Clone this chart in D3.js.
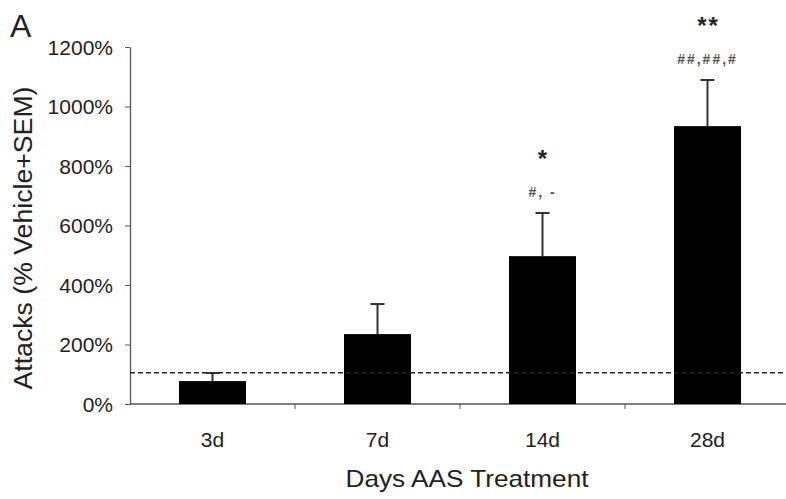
<!DOCTYPE html>
<html>
<head>
<meta charset="utf-8">
<script src="https://cdn.jsdelivr.net/npm/d3@7"></script>
<style>
  body { margin: 0; background: #fff; }
  text { font-family: "Liberation Sans", Arial, sans-serif; fill: #222; }
</style>
</head>
<body>
<div id="figure"></div>
<script>
// data
var days = ["3d", "7d", "14d", "28d"];
var attacks = [77, 235, 497, 934];
var sem = [27, 101, 145, 155];
var stars = ["", "", "*", "**"];
var hashes = ["", "", "#, -", "##,##,#"];
var yTicks = [0, 200, 400, 600, 800, 1000, 1200];
var vehicle = 105;

var width = 786, height = 499;
var margin = { top: 47, right: 0, bottom: 95, left: 130 };

var svg = d3.select("#figure")
    .append("svg")
    .attr("width", width)
    .attr("height", height)

var x = d3.scaleBand()
    .domain(days)
    .range([margin.left, margin.left + 165 * 4])
    .paddingInner(0)
    .paddingOuter(0);

var y = d3.scaleLinear()
    .domain([0, 1200])
    .range([404, 47]);

var barW = 67;

// y axis
var yAxis = svg.append("g")
    .attr("transform", "translate(" + margin.left + ",0)")
    .call(d3.axisLeft(y).tickValues(yTicks).tickSize(5).tickSizeOuter(0).tickFormat(function (d) { return d + "%" }))
yAxis.select(".domain").attr("stroke", "#555").attr("stroke-width", 1.3)
yAxis.selectAll(".tick line").attr("stroke", "#555")
yAxis.selectAll(".tick text")
    .attr("x", -17)
    .attr("dy", "0.35em")
    .style("font-size", "21px")
    .style("fill", "#222")

// x axis
var xAxis = svg.append("g")
    .attr("transform", "translate(0," + y(0) + ")")
xAxis.append("line")
    .attr("x1", margin.left).attr("x2", width)
    .attr("stroke", "#555").attr("stroke-width", 1.3)
xAxis.selectAll(".sep")
    .data(days.slice(1))
    .enter()
    .append("line")
    .attr("class", "sep")
    .attr("x1", function (d) { return x(d) })
    .attr("x2", function (d) { return x(d) })
    .attr("y1", 0).attr("y2", 5)
    .attr("stroke", "#555")
xAxis.selectAll(".lbl")
    .data(days)
    .enter()
    .append("text")
    .attr("class", "lbl")
    .attr("x", function (d) { return x(d) + x.bandwidth() / 2 })
    .attr("y", 43)
    .attr("text-anchor", "middle")
    .style("font-size", "21px")
    .text(function (d) { return d })

// error bars
var g = svg.append("g")
g.selectAll(".err")
    .data(days)
    .enter()
    .append("line")
    .attr("class", "err")
    .attr("x1", function (d) { return x(d) + x.bandwidth() / 2 })
    .attr("x2", function (d) { return x(d) + x.bandwidth() / 2 })
    .attr("y1", function (d, i) { return y(attacks[i]) })
    .attr("y2", function (d, i) { return y(attacks[i] + sem[i]) })
    .attr("stroke", "#333").attr("stroke-width", 2)
g.selectAll(".cap")
    .data(days)
    .enter()
    .append("line")
    .attr("class", "cap")
    .attr("x1", function (d) { return x(d) + x.bandwidth() / 2 - 7 })
    .attr("x2", function (d) { return x(d) + x.bandwidth() / 2 + 7 })
    .attr("y1", function (d, i) { return y(attacks[i] + sem[i]) })
    .attr("y2", function (d, i) { return y(attacks[i] + sem[i]) })
    .attr("stroke", "#333").attr("stroke-width", 2)

// dashed vehicle line
svg.append("line")
    .attr("x1", margin.left).attr("x2", width)
    .attr("y1", y(vehicle)).attr("y2", y(vehicle))
    .attr("stroke", "#222").attr("stroke-width", 1.3)
    .attr("stroke-dasharray", "5,3")

// bars
g.selectAll(".bar")
    .data(days)
    .enter()
    .append("rect")
    .attr("class", "bar")
    .attr("x", function (d) { return x(d) + (x.bandwidth() - barW) / 2 })
    .attr("width", barW)
    .attr("y", function (d, i) { return y(attacks[i]) })
    .attr("height", function (d, i) { return y(0) - y(attacks[i]) })
    .attr("fill", "#000")

// significance marks
g.selectAll(".star")
    .data(days)
    .enter()
    .append("text")
    .attr("class", "star")
    .attr("x", function (d) { return x(d) + x.bandwidth() / 2 + 1 })
    .attr("y", function (d, i) { return y(attacks[i] + sem[i]) - 46 })
    .attr("text-anchor", "middle")
    .style("font-size", "24px")
    .style("font-weight", "bold")
    .style("letter-spacing", "2px")
    .text(function (d, i) { return stars[i] })
g.selectAll(".hash")
    .data(days)
    .enter()
    .append("text")
    .attr("class", "hash")
    .attr("x", function (d) { return x(d) + x.bandwidth() / 2 })
    .attr("y", function (d, i) { return y(attacks[i] + sem[i]) - 16 })
    .attr("text-anchor", "middle")
    .style("font-size", "14px")
    .style("font-weight", "bold")
    .style("fill", "#555")
    .style("letter-spacing", "2px")
    .text(function (d, i) { return hashes[i] })

// titles
svg.append("text")
    .attr("x", 10).attr("y", 37)
    .style("font-size", "32px")
    .text("A")
svg.append("text")
    .attr("transform", "translate(32," + 238 + ") rotate(-90)")
    .attr("text-anchor", "middle")
    .style("font-size", "25px")
    .attr("lengthAdjust", "spacingAndGlyphs")
    .attr("textLength", 303)
    .text("Attacks (% Vehicle+SEM)")
svg.append("text")
    .attr("x", 467).attr("y", 487)
    .attr("text-anchor", "middle")
    .style("font-size", "24px")
    .attr("lengthAdjust", "spacingAndGlyphs")
    .attr("textLength", 243)
    .text("Days AAS Treatment")
</script>
</body>
</html>
